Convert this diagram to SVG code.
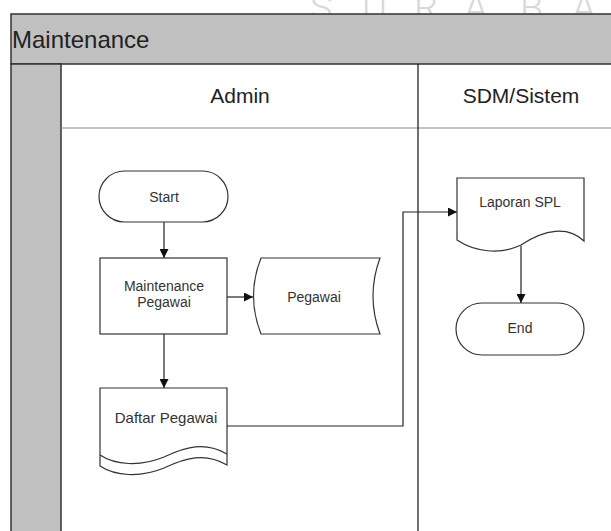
<svg xmlns="http://www.w3.org/2000/svg" width="611" height="531" viewBox="0 0 611 531">
  <defs>
    <marker id="arrow" viewBox="0 0 10 10" refX="10" refY="5" markerWidth="9" markerHeight="9" markerUnits="userSpaceOnUse" orient="auto">
      <path d="M0,0 L10,5 L0,10 Z" fill="#111"/>
    </marker>
    <style>
      .band { fill: #c0c0c0; stroke: #333; stroke-width: 1.5; }
      .shape { fill: #fff; stroke: #333; stroke-width: 1.2; }
      .wave { fill: none; stroke: #333; stroke-width: 1.2; }
      .conn { fill: none; stroke: #222; stroke-width: 1.2; }
      .lbl { font-family: "Liberation Sans", Arial, sans-serif; font-size: 14px; fill: #333; text-anchor: middle; }
      .head { font-family: "Liberation Sans", Arial, sans-serif; font-size: 21px; fill: #222; text-anchor: middle; }
      .title { font-family: "Liberation Sans", Arial, sans-serif; font-size: 24px; fill: #222; }
      .mark { font-family: Roboto, "Liberation Sans", sans-serif; font-weight: 300; font-size: 38px; fill: #d8d8d8; }
    </style>
  </defs>

  <rect width="611" height="531" fill="#fff"/>

  <!-- background lettering along the top edge -->
  <text class="mark" x="310" y="21">S</text>
  <text class="mark" x="362" y="21">U</text>
  <text class="mark" x="414" y="21">R</text>
  <text class="mark" x="464" y="21">A</text>
  <text class="mark" x="520" y="21">B</text>
  <text class="mark" x="572" y="21">A</text>

  <!-- pool frame -->
  <g id="pool">
    <rect class="band" x="11" y="14" width="620" height="50"/>
    <rect class="band" x="11" y="64" width="50" height="480"/>
    <line x1="61" y1="128" x2="611" y2="128" stroke="#888" stroke-width="1.2"/>
    <line x1="418" y1="64" x2="418" y2="531" stroke="#111" stroke-width="1.2"/>
    <text class="title" x="12" y="48">Maintenance</text>
    <text class="head" x="240" y="103">Admin</text>
    <text class="head" x="521" y="103">SDM/Sistem</text>
  </g>

  <!-- connectors -->
  <g id="connectors">
    <line class="conn" x1="164" y1="222" x2="164" y2="258" marker-end="url(#arrow)"/>
    <line class="conn" x1="227" y1="297" x2="253" y2="297" marker-end="url(#arrow)"/>
    <line class="conn" x1="164" y1="334" x2="164" y2="388" marker-end="url(#arrow)"/>
    <path class="conn" d="M227,426 H403 V212 H457" marker-end="url(#arrow)"/>
    <line class="conn" x1="521" y1="246" x2="521" y2="303" marker-end="url(#arrow)"/>
  </g>

  <g id="start">
    <rect class="shape" x="99" y="171" width="129" height="51" rx="25.5"/>
    <text class="lbl" x="164" y="202">Start</text>
  </g>

  <g id="maintenance-pegawai">
    <rect class="shape" x="100" y="258" width="127" height="76"/>
    <text class="lbl" x="164" y="291">Maintenance</text>
    <text class="lbl" x="164" y="307">Pegawai</text>
  </g>

  <g id="pegawai">
    <path class="shape" d="M261,258 H380 Q366,296 380,334 H261 Q246,296 261,258 Z"/>
    <text class="lbl" x="314" y="302">Pegawai</text>
  </g>

  <g id="daftar-pegawai">
    <path class="shape" d="M100,388 H227 V465 C205,452 185,458 164,468 C140,478 115,476 100,466 Z"/>
    <path class="wave" d="M100,455 C115,465 140,467 164,457 C185,447 205,441 227,454"/>
    <text class="lbl" x="166" y="423" style="font-size:15px">Daftar Pegawai</text>
  </g>

  <g id="laporan-spl">
    <path class="shape" d="M457,178 H584 V241 C568,226 545,229 521,245 C500,255 475,252 457,240 Z"/>
    <text class="lbl" x="520" y="207">Laporan SPL</text>
  </g>

  <g id="end">
    <rect class="shape" x="456" y="303" width="128" height="52" rx="26"/>
    <text class="lbl" x="520" y="333">End</text>
  </g>
</svg>
